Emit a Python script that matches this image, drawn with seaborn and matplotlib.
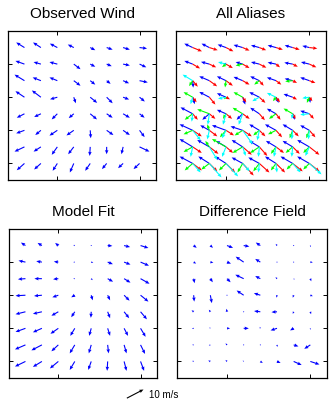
import numpy as np
import matplotlib
matplotlib.use("Agg")
import matplotlib.pyplot as plt
import seaborn as sns

nan = np.nan

# ---------------- data ----------------
grid_x = [1, 2, 3, 4, 5, 6, 7, 8]
grid_y = [8, 7, 6, 5, 4, 3, 2, 1]          # rows listed top to bottom
x_ticks = [3, 8]
y_ticks = [1, 3, 5, 7]
titles = ["Observed Wind", "All Aliases", "Model Fit", "Difference Field"]
key_speed = 10
key_label = "10 m/s"
key_angle = 27.5

# Observed wind (m/s)
obs_u = [[-4.4, -4.2, -4.0, -3.2, 2.7, 3.2, 3.6, 4.0],
         [-4.8, -3.9, -4.2, 3.6, 2.7, 2.7, 3.6, 3.6],
         [-5.3, -4.4, -4.2, 3.6, 2.7, 2.1, 3.2, 4.4],
         [-4.8, -4.8, -3.9, 1.1, 3.7, 3.2, 3.2, 2.8],
         [-4.1, -3.6, -3.0, -2.7, 3.6, 3.2, 3.6, 2.7],
         [-4.4, -3.0, -4.2, -3.9, 0.3, 3.6, 3.6, 2.7],
         [-5.3, -3.9, -3.0, -3.0, -0.3, 0.0, -0.9, 5.3],
         [-4.1, -3.6, -2.5, -2.1, -2.7, -2.5, -2.7, -3.2]]
obs_v = [[2.7, 2.7, 2.1, 1.6, -1.4, -1.1, -1.1, -0.5],
         [1.7, 1.1, 1.1, -2.7, -1.4, -1.1, -0.7, -1.7],
         [3.2, 1.7, 1.7, -2.7, -2.1, -1.7, -1.4, -0.9],
         [3.2, 3.6, -1.1, -3.2, -3.0, -3.2, -1.2, -2.3],
         [-2.1, -1.7, -3.0, -2.3, -3.0, -2.1, -2.1, -2.1],
         [-1.6, -2.5, -2.8, -2.7, -4.2, -2.5, -2.5, -3.6],
         [-2.5, -2.5, -4.2, -3.9, -4.8, -3.9, -3.9, -2.5],
         [-3.6, -3.2, -3.9, -4.8, -3.9, -3.0, -2.5, -3.0]]

# Model fit (m/s)
fit_u = [[-2.4, -2.3, -1.7, -0.8, 0.3, 2.5, 3.2, 4.2],
         [-3.7, -3.0, -2.4, -0.8, 1.1, 2.8, 3.4, 4.5],
         [-4.0, -4.0, -2.8, -0.8, 0.8, 2.9, 3.4, 4.8],
         [-5.3, -4.2, -3.2, -1.9, 0.8, 1.3, 2.9, 4.2],
         [-5.3, -4.8, -3.7, -1.9, -0.2, 1.3, 2.7, 3.4],
         [-5.3, -4.8, -4.2, -2.4, -1.1, 1.3, 2.1, 2.7],
         [-5.6, -5.6, -3.7, -2.7, -1.3, 0.5, 1.3, 2.4],
         [-5.6, -4.8, -4.5, -2.7, -1.6, -0.3, 1.3, 1.9]]
fit_v = [[1.6, 1.4, 1.4, 0.3, 0.5, -0.2, -0.8, -1.3],
         [0.8, 0.5, 0.3, 0.0, -0.3, -1.1, -1.3, -1.9],
         [-0.3, 0.0, -0.3, 0.0, -0.8, -1.6, -2.1, -2.7],
         [-0.3, -0.4, -1.1, -1.1, -2.7, -2.7, -2.9, -3.4],
         [-1.3, -1.1, -2.1, -2.9, -3.2, -3.4, -3.4, -4.0],
         [-1.9, -2.1, -2.9, -4.0, -4.0, -4.0, -4.0, -4.5],
         [-2.4, -2.9, -3.4, -4.5, -4.5, -4.5, -4.5, -4.8],
         [-2.7, -2.9, -3.7, -4.5, -4.5, -5.0, -5.0, -5.0]]

# Difference field (m/s)
diff_u = [[1.6, 1.4, 3.2, 3.0, -2.4, -0.7, -0.4, 0.3],
          [1.3, 1.6, 2.1, -4.2, -2.7, 0.2, 0.0, 1.3],
          [0.5, 1.3, 1.9, -4.4, -2.7, -0.8, 0.5, 0.5],
          [0.3, 0.8, 0.4, -3.7, -3.4, -0.3, -0.5, 1.3],
          [-1.1, -0.8, -0.3, 0.3, -3.3, -2.9, -0.5, 0.4],
          [-0.9, -0.5, 1.6, 2.7, -0.3, -3.4, -1.9, 0.0],
          [-0.8, -0.8, -0.8, 0.3, -0.3, 0.2, 2.5, -3.2],
          [-0.8, -1.1, -0.8, -0.5, 1.3, 1.9, 4.2, 4.8]]
diff_v = [[-1.2, -1.2, -1.2, -0.5, 1.6, 0.9, 0.3, -0.8],
          [-0.8, -0.3, -0.8, 2.9, 1.7, -0.5, -0.5, -0.1],
          [-2.4, -1.9, -1.9, 2.1, 1.4, 0.8, -0.5, -1.4],
          [-3.4, -4.2, 0.0, 2.5, 1.1, -1.3, -1.3, -0.5],
          [0.8, 1.1, 1.6, 0.3, 0.4, -0.2, -1.1, -1.3],
          [-0.2, 0.5, 0.0, 0.0, 0.8, -1.1, -1.1, -0.8],
          [0.0, -0.3, 0.8, -0.3, 0.2, -1.1, -0.8, -2.1],
          [0.3, 0.5, 0.8, 0.5, -0.8, -0.8, -1.9, -1.6]]

# Ambiguities (aliases), one array pair per rank/colour
blue_u = [[-4.4, -4.1, -4.4, -4.8, -4.4, -4.4, -4.2, -3.7],
          [-4.4, -4.4, -1.6, -3.7, -4.4, -4.4, -4.4, -4.4],
          [0.3, -5.3, -4.8, -4.8, -4.8, -4.8, -4.2, -4.8],
          [1.1, -5.3, -4.8, 1.4, -5.3, 1.4, -4.8, 0.5],
          [-6.4, -3.7, -4.8, -3.2, -4.8, -4.8, 1.1, -4.8],
          [-6.9, -4.8, -7.4, -6.4, -5.3, -5.8, -5.3, -4.8],
          [-6.9, -6.4, -5.3, -5.8, -5.3, -5.3, -5.3, -6.4],
          [-6.9, -5.8, -5.8, -5.8, -5.8, -5.8, -6.4, -6.4]]
blue_v = [[2.1, 2.1, 1.6, 1.4, 1.2, 1.2, 1.2, 0.9],
          [1.7, 1.2, 0.5, 1.1, 1.1, 0.9, 0.8, 1.1],
          [-3.7, 2.3, 2.3, 2.0, 2.3, 1.7, 1.1, 1.7],
          [-3.7, 2.8, 2.1, -3.9, 2.7, -3.0, 1.7, -3.0],
          [3.4, -3.2, 2.1, -3.2, 3.2, 2.7, -3.2, 1.6],
          [3.2, 2.7, 2.7, 2.1, 3.2, 3.2, 3.2, 2.7],
          [4.2, 3.7, 3.2, 3.7, 3.2, 3.2, 3.2, 3.7],
          [3.7, 3.7, 3.7, 3.2, 3.2, 3.7, 3.7, 3.7]]
red_u = [[4.9, 4.4, 3.9, 3.6, 3.6, 3.6, 3.7, 4.2],
         [3.9, 3.6, 3.6, 3.6, 3.7, 2.1, 2.7, 3.7],
         [2.7, 4.1, 3.6, 3.6, 2.3, 2.8, 2.3, 3.2],
         [2.1, 3.2, 2.1, 1.9, 3.2, 2.1, 2.3, 1.6],
         [2.7, 3.2, 3.2, 3.7, 2.9, 2.4, 1.6, 2.4],
         [4.8, 4.2, 4.2, 4.8, 3.2, 3.2, 3.2, 3.2],
         [4.8, 4.8, 3.7, 4.8, 4.2, 4.2, 3.7, 5.3],
         [4.8, 4.2, 4.8, 5.8, 5.3, 4.8, 5.3, 5.3]]
red_v = [[-2.0, -1.4, -2.0, -1.6, -1.4, -1.1, -1.1, -0.5],
         [-2.3, -1.7, -2.1, -2.1, -1.9, -1.7, -1.4, -1.7],
         [-3.2, -3.0, -2.7, -2.1, -2.7, -2.1, -1.2, -1.2],
         [-2.7, -3.9, -1.1, -2.7, -3.0, -2.7, -1.2, -2.1],
         [-3.2, -2.7, -2.7, -2.7, -3.4, -3.2, -2.7, -2.7],
         [-3.2, -3.2, -2.7, -3.2, -3.2, -3.7, -3.2, -3.7],
         [-3.2, -3.7, -3.2, -4.2, -4.8, -3.2, -3.7, -4.2],
         [-3.7, -4.2, -4.8, -6.4, -4.8, -4.8, -4.2, -4.2]]
green_u = [[nan, nan, nan, nan, nan, nan, nan, nan],
           [nan, nan, -2.1, -3.7, nan, nan, nan, nan],
           [-1.9, nan, -0.5, nan, -2.7, nan, -3.9, nan],
           [-4.8, nan, -1.1, -4.8, nan, -1.6, nan, -1.3],
           [-4.2, -6.4, -1.6, -5.3, nan, -3.7, -4.8, nan],
           [-4.8, -1.1, -3.2, -4.2, -3.2, -4.2, -1.6, -1.6],
           [-4.8, -2.1, -7.4, -5.3, -4.8, -2.7, -3.7, -3.2],
           [-4.2, -4.2, -3.7, -2.7, -3.2, -2.7, -3.2, -3.2]]
green_v = [[nan, nan, nan, nan, nan, nan, nan, nan],
           [nan, nan, -1.6, -0.8, nan, nan, nan, nan],
           [-2.9, nan, -3.6, nan, -2.1, nan, -0.4, nan],
           [2.7, nan, -1.1, 2.7, nan, -2.1, nan, -3.0],
           [-3.2, 2.4, -2.7, 3.2, nan, -2.7, 2.8, nan],
           [-2.1, 3.2, -3.7, -2.7, -2.7, -2.1, -4.2, -4.2],
           [-2.7, 3.2, 4.2, -3.2, -3.2, -3.7, -3.2, -3.2],
           [-3.7, -3.2, -3.7, -4.8, -4.2, -3.7, -3.2, -3.2]]
cyan_u = [[nan, nan, nan, nan, nan, nan, nan, nan],
          [nan, nan, -4.2, nan, nan, nan, nan, nan],
          [-5.3, nan, nan, nan, nan, nan, nan, nan],
          [-1.1, nan, -4.2, nan, -3.7, -4.8, nan, -3.7],
          [-0.5, -0.8, -1.6, -2.1, nan, nan, -0.5, -4.8],
          [4.2, -1.1, -2.1, 5.3, -1.1, nan, -0.5, -0.5],
          [-1.1, 4.2, -2.1, 1.6, -0.5, -1.1, -0.5, -2.1],
          [4.2, 6.4, 6.4, 3.7, -0.5, 0.5, 4.2, 6.4]]
cyan_v = [[nan, nan, nan, nan, nan, nan, nan, nan],
          [nan, nan, 1.1, nan, nan, nan, nan, nan],
          [3.2, nan, nan, nan, nan, nan, nan, nan],
          [-3.7, nan, -0.8, nan, -2.1, 2.3, nan, -0.5],
          [-4.2, -5.8, -5.8, -5.8, nan, nan, -2.7, -0.5],
          [-5.3, -4.8, -4.2, -7.4, -5.3, nan, -4.8, -4.8],
          [-5.3, -6.9, -5.3, -4.8, -5.3, -5.3, -5.3, -4.8],
          [-4.8, -7.4, -6.9, -4.2, -4.8, -4.8, -4.8, -5.8]]

# ---------------- style ----------------
sns.set_theme(style="ticks")
plt.rcParams['font.family'] = ['Liberation Sans', 'DejaVu Sans']

W, H = 331, 401
fig = plt.figure(figsize=(W / 100, H / 100), dpi=100)
fig.patch.set_facecolor('white')

# panel rectangles in pixels: (left, top, right, bottom)
panels = [(8, 31, 156, 180), (176, 31, 326, 180),
          (9, 229, 157, 378), (177, 229, 327, 378)]
axes = []
for (l, t, r, b), title in zip(panels, titles):
    ax = fig.add_axes([l / W, 1 - b / H, (r - l) / W, (b - t) / H])
    ax.set_facecolor('white')
    ax.set_xlim(0, 9)
    ax.set_ylim(0, 9)
    ax.set_xticks(x_ticks)
    ax.set_yticks(y_ticks)
    ax.tick_params(direction='in', length=2.6, width=0.7, color='black',
                   top=True, right=True, bottom=True, left=True,
                   labelbottom=False, labelleft=False)
    for s in ax.spines.values():
        s.set_color('black')
        s.set_linewidth(0.9)
    fig.text((l + r) / 2 / W, 1 - (t - 12.5) / H, title, ha='center',
             va='baseline', fontsize=11, color='black')
    axes.append(ax)

SCALE = 8.78  # m/s per data unit
X, Y = np.meshgrid(grid_x, grid_y)


def draw(ax, u, v, color):
    U = np.ma.masked_invalid(np.array(u, dtype=float))
    V = np.ma.masked_invalid(np.array(v, dtype=float))
    return ax.quiver(X, Y, U, V, color=color, angles='xy', scale_units='xy',
                     scale=SCALE, units='dots', width=1.1, headwidth=3.2,
                     headlength=3.8, headaxislength=3.4, pivot='tail',
                     zorder=3)


draw(axes[0], obs_u, obs_v, (0, 0, 1))
draw(axes[1], blue_u, blue_v, (0, 0, 1))
draw(axes[1], red_u, red_v, (1, 0, 0))
draw(axes[1], green_u, green_v, (0, 1, 0))
draw(axes[1], cyan_u, cyan_v, (0, 1, 1))
q_fit = draw(axes[2], fit_u, fit_v, (0, 0, 1))
draw(axes[3], diff_u, diff_v, (0, 0, 1))

# reference arrow (tip at given position, label to the right)
axes[2].quiverkey(q_fit, 143.3 / W, 1 - 389 / H, key_speed, "",
                  angle=key_angle, labelpos='E', coordinates='figure',
                  color='black')
fig.text(149 / W, 1 - 397.7 / H, key_label, ha='left', va='baseline',
         fontsize=7, color='black')

fig.savefig("out.png", dpi=100, facecolor='white')
